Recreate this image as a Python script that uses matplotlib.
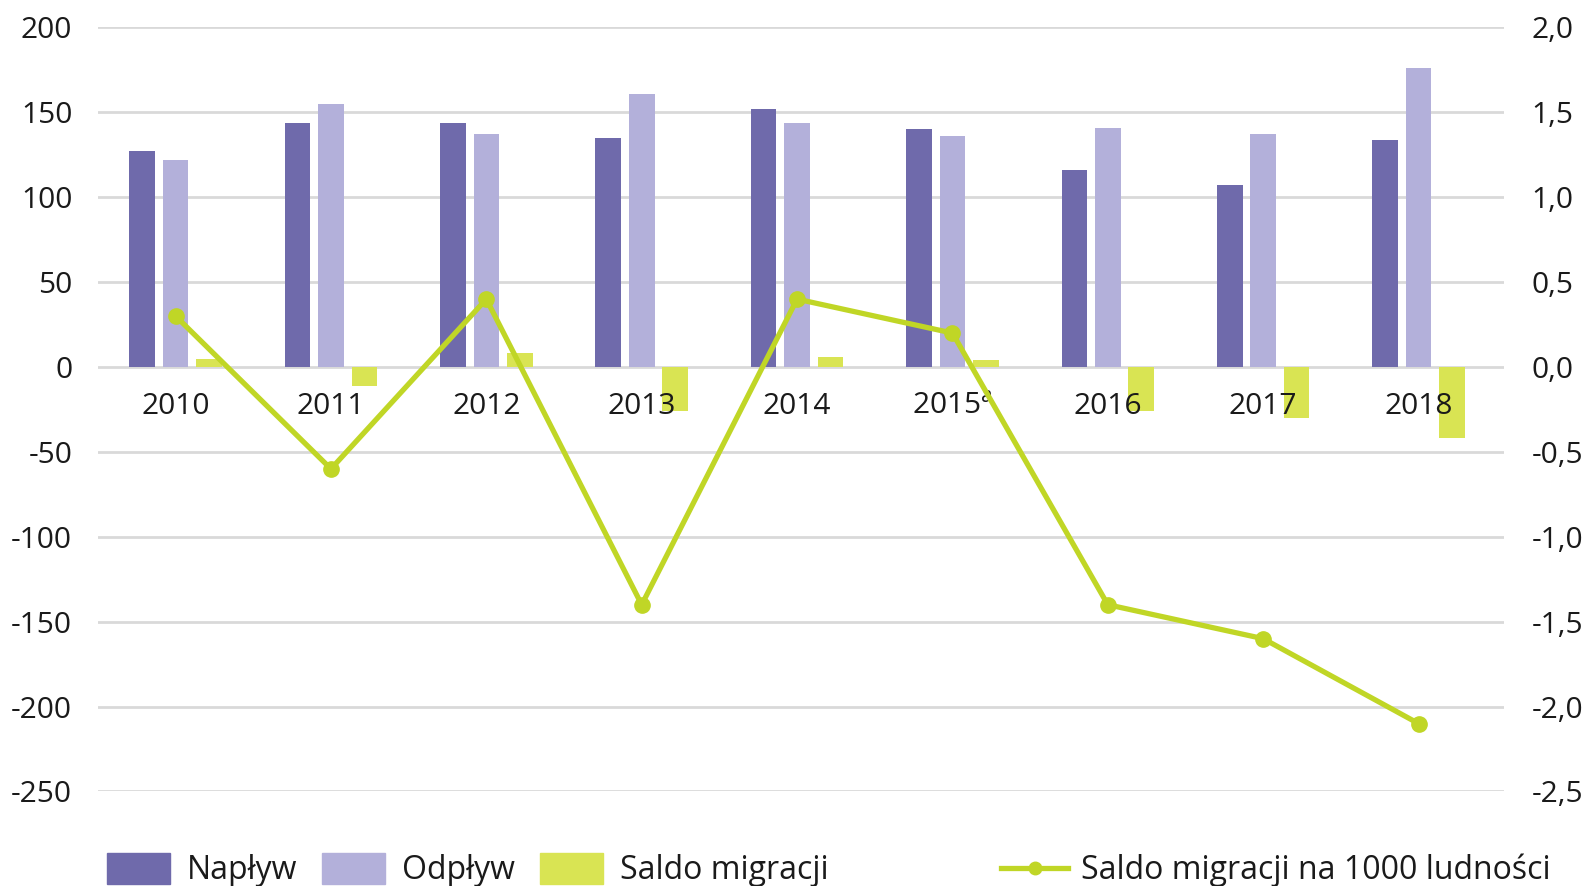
import matplotlib
matplotlib.use("Agg")
import matplotlib.pyplot as plt
import numpy as np
from matplotlib.ticker import FuncFormatter
from matplotlib.patches import Patch
from matplotlib.lines import Line2D

years = ["2010", "2011", "2012", "2013", "2014", "2015$^\\mathregular{a}$", "2016", "2017", "2018"]
naplyw = [127, 144, 144, 135, 152, 140, 116, 107, 134]
odplyw = [122, 155, 137, 161, 144, 136, 141, 137, 176]
saldo = [5, -11, 8, -26, 6, 4, -26, -30, -42]
saldo_1000 = [0.3, -0.6, 0.4, -1.4, 0.4, 0.2, -1.4, -1.6, -2.1]
left_ticks = [200, 150, 100, 50, 0, -50, -100, -150, -200, -250]
right_ticks = [2.0, 1.5, 1.0, 0.5, 0.0, -0.5, -1.0, -1.5, -2.0, -2.5]
legend_labels = ["Napływ", "Odpływ", "Saldo migracji", "Saldo migracji na 1000 ludności"]

c_nap = "#6f6aab"
c_odp = "#b3b0da"
c_sal = "#d9e453"
c_line = "#c0d626"
txt = "#1a1a1a"

plt.rcParams['font.family'] = ['Open Sans', 'DejaVu Sans']
plt.rcParams['axes.unicode_minus'] = False

fig = plt.figure(figsize=(15.87, 8.86), dpi=100)
ax = fig.add_axes([0.0617, 0.1067, 0.886, 0.8623])
x = np.arange(len(years))
w = 0.165
step = 0.215
for t in left_ticks:
    ax.axhline(t, color="#d9d9d9", linewidth=2, zorder=0)
ax.bar(x - step, naplyw, w, color=c_nap, zorder=2)
ax.bar(x, odplyw, w, color=c_odp, zorder=2)
ax.bar(x + step, saldo, w, color=c_sal, zorder=2)

ax.set_xlim(-0.5, 8.55)
ax.set_ylim(-250, 200)
ax.set_yticks(left_ticks)
ax.set_axisbelow(False)
for s in ax.spines.values():
    s.set_visible(False)
ax.spines['bottom'].set_position(('data', 0))
ax.set_xticks(x)
ax.set_xticklabels(years)
ax.tick_params(axis='x', length=0, pad=18, labelsize=21.5, colors=txt)
ax.tick_params(axis='y', length=0, pad=18.5, labelsize=21.5, colors=txt)

ax2 = ax.twinx()
ax2.plot(x, saldo_1000, color=c_line, linewidth=3.8, marker='o', markersize=11, zorder=5)
ax2.set_ylim(-2.5, 2.0)
ax2.set_yticks(right_ticks)
ax2.yaxis.set_major_formatter(FuncFormatter(lambda v, p: f"{v:.1f}".replace(".", ",")))
ax2.tick_params(axis='y', length=0, pad=20, labelsize=21.5, colors=txt)
for s in ax2.spines.values():
    s.set_visible(False)

fs_leg = 23
h1 = [Patch(color=c_nap), Patch(color=c_odp), Patch(color=c_sal)]
fig.legend(h1, legend_labels[:3], loc='center left', bbox_to_anchor=(0.0675, 0.018),
           ncol=3, frameon=False, fontsize=fs_leg, handlelength=1.97, handleheight=1.15,
           handletextpad=0.53, columnspacing=0.78, borderpad=0, borderaxespad=0, labelcolor=txt)
h2 = [Line2D([0], [0], color=c_line, linewidth=3.8, marker='o', markersize=9)]
fig.legend(h2, legend_labels[3:], loc='center left', bbox_to_anchor=(0.631, 0.018),
           frameon=False, fontsize=fs_leg, handlelength=2.1, handletextpad=0.4,
           borderpad=0, borderaxespad=0, labelcolor=txt)

fig.savefig("out.png", dpi=100)
